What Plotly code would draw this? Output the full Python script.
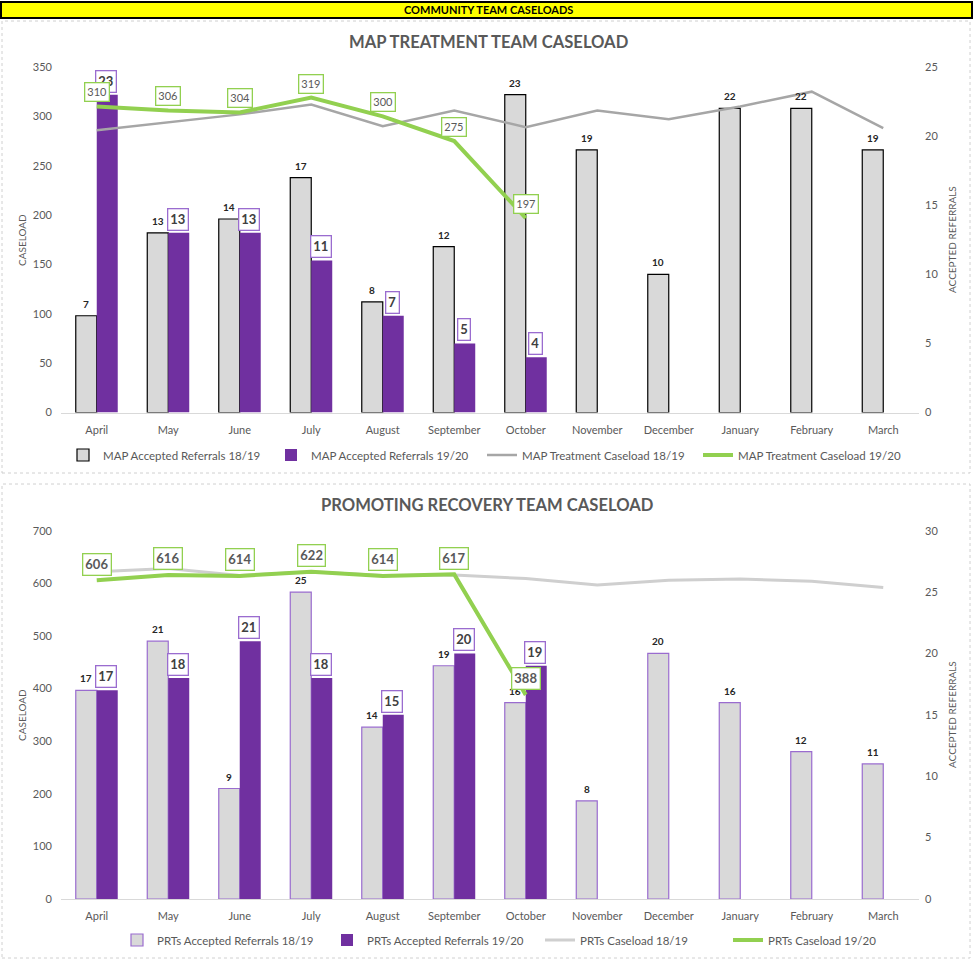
import plotly.graph_objects as go

# ---------------- DATA ----------------
months = ["April", "May", "June", "July", "August", "September", "October",
          "November", "December", "January", "February", "March"]

map_ref_1819 = [7, 13, 14, 17, 8, 12, 23, 19, 10, 22, 22, 19]
map_ref_1920 = [23, 13, 13, 11, 7, 5, 4]
map_case_1819 = [286, 294, 302, 312, 290, 306, 289, 306, 297, 310, 325, 288]
map_case_1920 = [310, 306, 304, 319, 300, 275, 197]

prt_ref_1819 = [17, 21, 9, 25, 14, 19, 16, 8, 20, 16, 12, 11]
prt_ref_1920 = [17, 18, 21, 18, 15, 20, 19]
prt_case_1819 = [622, 628, 615, 622, 615, 616, 609, 597, 606, 608, 604, 592]
prt_case_1920 = [606, 616, 614, 622, 614, 617, 388]

# ---------------- STYLE ----------------
W, H = 973, 960
FONT = "Lato, 'Open Sans', sans-serif"
GREY_TXT = "#595959"
PURPLE = "#7030a0"
PURPLE_LIGHT = "#9a6ccf"
GREEN = "#92d050"
BAR_GREY = "#d9d9d9"


def px_x(p):
    return p / W


def px_y(p):
    return 1 - p / H


X_DOM = [px_x(61), px_x(919)]
TOP_DOM = [px_y(412.5), px_y(67)]
BOT_DOM = [px_y(899), px_y(530.7)]

fig = go.Figure()

# ---- top chart ----
fig.add_trace(go.Bar(name="MAP Accepted Referrals 18/19", x=months, y=map_ref_1819,
                     xaxis="x", yaxis="y", marker=dict(color=BAR_GREY, line=dict(color="#000000", width=1.2)),
                     legend="legend"))
fig.add_trace(go.Bar(name="MAP Accepted Referrals 19/20", x=months[:len(map_ref_1920)], y=map_ref_1920,
                     xaxis="x", yaxis="y", marker=dict(color=PURPLE, line=dict(color=PURPLE, width=0)),
                     legend="legend2"))
fig.add_trace(go.Scatter(name="MAP Treatment Caseload 18/19", x=months, y=map_case_1819, mode="lines",
                         xaxis="x", yaxis="y2", line=dict(color="#a6a6a6", width=2.5), legend="legend3"))
fig.add_trace(go.Scatter(name="MAP Treatment Caseload 19/20", x=months[:len(map_case_1920)], y=map_case_1920,
                         mode="lines", xaxis="x", yaxis="y2", line=dict(color=GREEN, width=4), legend="legend4"))

# ---- bottom chart ----
fig.add_trace(go.Bar(name="PRTs Accepted Referrals 18/19", x=months, y=prt_ref_1819,
                     xaxis="x2", yaxis="y3", marker=dict(color=BAR_GREY, line=dict(color=PURPLE_LIGHT, width=1.2)),
                     legend="legend5"))
fig.add_trace(go.Bar(name="PRTs Accepted Referrals 19/20", x=months[:len(prt_ref_1920)], y=prt_ref_1920,
                     xaxis="x2", yaxis="y3", marker=dict(color=PURPLE, line=dict(color=PURPLE, width=0)),
                     legend="legend6"))
fig.add_trace(go.Scatter(name="PRTs Caseload 18/19", x=months, y=prt_case_1819, mode="lines",
                         xaxis="x2", yaxis="y4", line=dict(color="#cfcfcf", width=3), legend="legend7"))
fig.add_trace(go.Scatter(name="PRTs Caseload 19/20", x=months[:len(prt_case_1920)], y=prt_case_1920,
                         mode="lines", xaxis="x2", yaxis="y4", line=dict(color=GREEN, width=4), legend="legend8"))

# ---------------- ANNOTATIONS ----------------
ann = []
BAR_SHIFT = 10.5


def grey_labels(vals, xref, yref):
    for m, v in zip(months, vals):
        ann.append(dict(x=m, y=v, xref=xref, yref=yref, text=f"<b>{v}</b>", showarrow=False,
                        xshift=-BAR_SHIFT, yshift=4, yanchor="bottom",
                        font=dict(family=FONT, size=10, color="#262626")))


def purple_labels(vals, xref, yref):
    for m, v in zip(months, vals):
        ann.append(dict(x=m, y=v, xref=xref, yref=yref, text=f"<b>{v}</b>", showarrow=False,
                        xshift=BAR_SHIFT - 1, yshift=2, yanchor="bottom",
                        bgcolor="#ffffff", bordercolor=PURPLE_LIGHT, borderwidth=1.3, borderpad=2,
                        font=dict(family=FONT, size=13, color="#404040")))


def green_labels(vals, xref, yref, bold, size, shift):
    for m, v in zip(months, vals):
        t = f"<b>{v}</b>" if bold else f"{v}"
        ann.append(dict(x=m, y=v, xref=xref, yref=yref, text=t, showarrow=False,
                        yshift=shift, yanchor="middle",
                        bgcolor="#ffffff", bordercolor=GREEN, borderwidth=1.3, borderpad=2,
                        font=dict(family=FONT, size=size, color=GREY_TXT)))


grey_labels(map_ref_1819, "x", "y")
purple_labels(map_ref_1920, "x", "y")
green_labels(map_case_1920, "x", "y2", False, 11, 14)

grey_labels(prt_ref_1819, "x2", "y3")
purple_labels(prt_ref_1920, "x2", "y3")
green_labels(prt_case_1920, "x2", "y4", True, 13, 16)


def paper_text(x, y, text, size, color, angle=0):
    return dict(x=px_x(x), y=px_y(y), xref="paper", yref="paper", text=text, textangle=angle,
                xanchor="center", yanchor="middle", showarrow=False,
                font=dict(family=FONT, size=size, color=color))


ann += [
    paper_text(488, 10, "<b>COMMUNITY TEAM CASELOADS</b>", 11, "#000000"),
    paper_text(488, 42, "<b>MAP TREATMENT TEAM CASELOAD</b>", 16.6, GREY_TXT),
    paper_text(487, 505, "<b>PROMOTING RECOVERY TEAM CASELOAD</b>", 16.6, GREY_TXT),
    paper_text(22, 240, "CASELOAD", 10, GREY_TXT, -90),
    paper_text(952, 240, "ACCEPTED REFERRALS", 10, GREY_TXT, -90),
    paper_text(22, 715, "CASELOAD", 10, GREY_TXT, -90),
    paper_text(952, 715, "ACCEPTED REFERRALS", 10, GREY_TXT, -90),
]

shapes = [
    dict(type="rect", xref="paper", yref="paper", x0=px_x(2), x1=px_x(970), y0=px_y(473), y1=px_y(21),
         line=dict(color="#d0d0d0", width=1, dash="dot"), fillcolor="rgba(0,0,0,0)", layer="below"),
    dict(type="rect", xref="paper", yref="paper", x0=px_x(2), x1=px_x(970), y0=px_y(958), y1=px_y(484),
         line=dict(color="#d0d0d0", width=1, dash="dot"), fillcolor="rgba(0,0,0,0)", layer="below"),
    dict(type="rect", xref="paper", yref="paper", x0=px_x(1), x1=px_x(972), y0=px_y(18), y1=px_y(2),
         line=dict(color="#000000", width=2), fillcolor="#ffff00", layer="below"),
]

tickfont = dict(family=FONT, size=11, color=GREY_TXT)
xax = dict(domain=X_DOM, type="category", showline=True, linecolor="#d9d9d9", linewidth=1,
           ticks="", showgrid=False, zeroline=False, tickfont=tickfont, fixedrange=True, automargin=False,
           ticklabelstandoff=7)
yax = dict(showgrid=False, zeroline=False, showline=False, ticks="", tickfont=tickfont, fixedrange=True,
           automargin=False)


def legend_at(text_x, y):
    return dict(orientation="h", xanchor="left", yanchor="middle", bgcolor="rgba(0,0,0,0)",
                font=dict(family=FONT, size=11.5, color=GREY_TXT), itemwidth=30,
                x=px_x(text_x - 40), y=px_y(y))


fig.update_layout(
    width=W, height=H, margin=dict(l=0, r=0, t=0, b=0, autoexpand=False),
    paper_bgcolor="#ffffff", plot_bgcolor="rgba(0,0,0,0)",
    font=dict(family=FONT, color=GREY_TXT),
    barmode="group", bargap=0.413, bargroupgap=0,
    xaxis=dict(xax, anchor="y"),
    yaxis=dict(yax, domain=TOP_DOM, side="right", range=[0, 25], dtick=5, anchor="x", ticklabelstandoff=5),
    yaxis2=dict(yax, overlaying="y", side="left", range=[0, 350], dtick=50, anchor="x", ticklabelstandoff=8),
    xaxis2=dict(xax, anchor="y3"),
    yaxis3=dict(yax, domain=BOT_DOM, side="right", range=[0, 30], dtick=5, anchor="x2", ticklabelstandoff=5),
    yaxis4=dict(yax, overlaying="y3", side="left", range=[0, 700], dtick=100, anchor="x2", ticklabelstandoff=8),
    legend=legend_at(103, 455),
    legend2=legend_at(311, 455),
    legend3=legend_at(522, 455),
    legend4=legend_at(738, 455),
    legend5=legend_at(157, 940),
    legend6=legend_at(367, 940),
    legend7=legend_at(580, 940),
    legend8=legend_at(768, 940),
    annotations=ann,
    shapes=shapes,
    showlegend=True,
)

fig.write_html("out.html", config={"displayModeBar": False},
               post_script="document.body.style.margin='0';")
